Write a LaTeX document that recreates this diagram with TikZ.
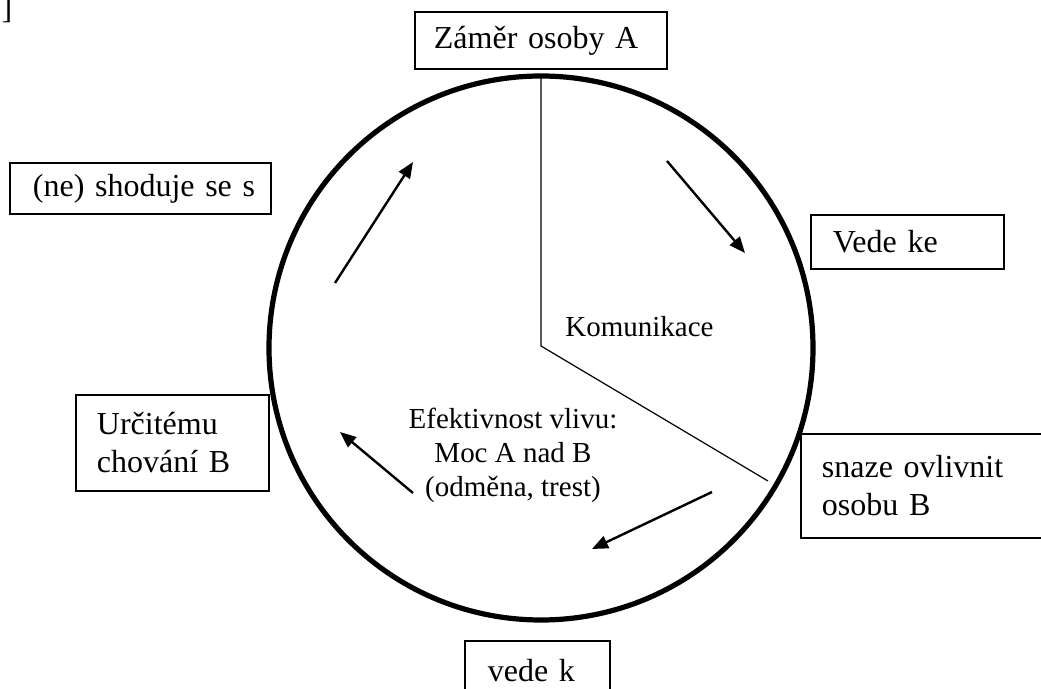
\documentclass[tikz,border=0pt]{standalone}
\usepackage{fontspec}
\setmainfont{Liberation Serif}
\usetikzlibrary{arrows.meta}
\newcommand\padL[1]{\hspace*{#1}}
\begin{document}
\begin{tikzpicture}[x=0.5pt,y=-0.5pt,
  boxst/.style={draw, line width=0.9pt, align=left, anchor=north west, inner ysep=0pt, inner xsep=1pt,
     font=\fontsize{16}{19}\selectfont},
  arr/.style={line width=1.2pt, -{Triangle[length=8pt,width=6.5pt]}},
  thin/.style={line width=0.6pt}]
\useasboundingbox (0,0) rectangle (1041,689);
\node (br) [inner sep=0pt, anchor=north] at (7,-4) {\fontsize{16}{18}\selectfont ]};
% circle
\node (circ) [draw, circle, line width=2.6pt, minimum size=544*0.5pt, inner sep=0pt] at (541,348) {};
% boxes
\node (zamer) [boxst, minimum width=126pt, minimum height=28.5pt, text width=124pt] at (414,11) {\padL{8.5pt}\raisebox{-1.5pt}{Záměr osoby A}};
\node (vedeke) [boxst, minimum width=96.5pt, minimum height=27pt, text width=94.5pt] at (810,214) {\padL{10pt}Vede ke};
\node (snaze) [boxst, minimum width=140pt, minimum height=52pt, text width=138pt] at (800,433) {\padL{9.5pt}snaze ovlivnit\\\padL{9.5pt}osobu B};
\node (vedek) [boxst, minimum width=72.5pt, minimum height=30pt, text width=70.5pt] at (464,640) {\padL{10.5pt}vede k};
\node (urc) [boxst, minimum width=96.5pt, minimum height=48pt, text width=94.5pt] at (75,394) {\padL{9.5pt}Určitému\\\padL{9.5pt}chování B};
\node (shod) [boxst, minimum width=130.5pt, minimum height=25.5pt, text width=128.5pt] at (9,162) {\padL{10.5pt}(ne) shoduje se s};
% inner lines
\coordinate (ltop) at (541,77);
\coordinate (lmid) at (541,346);
\coordinate (lend) at (768,481);
\draw[thin] (ltop) -- (lmid) -- (lend);
% texts
\node (kom) [anchor=base west, inner sep=0pt, font=\fontsize{14.5}{17}\selectfont] at (565,337) {Komunikace};
\node (efek) [align=center, inner sep=0pt, font=\fontsize{14.5}{17}\selectfont] at (513,455) {Efektivnost vlivu:\\Moc A nad B\\(odměna, trest)};
% arrows
\coordinate (a1s) at (667,161); \coordinate (a1e) at (745,253);
\coordinate (a2s) at (712,492); \coordinate (a2e) at (592,549);
\coordinate (a3s) at (413,493); \coordinate (a3e) at (340,432);
\coordinate (a4s) at (335,283); \coordinate (a4e) at (413,162);
\draw[arr] (a1s) -- (a1e);
\draw[arr] (a2s) -- (a2e);
\draw[arr] (a3s) -- (a3e);
\draw[arr] (a4s) -- (a4e);
\end{tikzpicture}
\end{document}
